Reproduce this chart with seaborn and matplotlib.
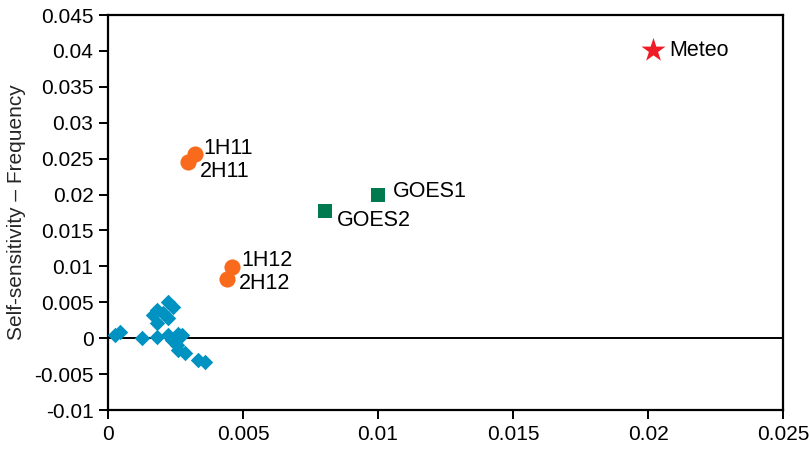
import matplotlib
matplotlib.use("Agg")
import matplotlib.pyplot as plt
import seaborn as sns

# Small sensitivity cluster (blue diamonds)
diamond_x = [0.00026, 0.00045, 0.00125, 0.00181, 0.00224, 0.00241, 0.00181, 0.00205,
             0.00168, 0.00181, 0.00223, 0.00224, 0.00261, 0.00273, 0.00236, 0.00255,
             0.00261, 0.00286, 0.00335, 0.00360]
diamond_y = [0.00042, 0.00084, 0.00000, 0.00010, 0.00505, 0.00436, 0.00390, 0.00344,
             0.00320, 0.00205, 0.00280, 0.00042, 0.00065, 0.00042, -0.00028, -0.00097,
             -0.00167, -0.00213, -0.00306, -0.00330]

# Labelled points
orange_names = ["1H11", "2H11", "1H12", "2H12"]
orange_x = [0.00323, 0.00298, 0.00459, 0.00440]
orange_y = [0.0256, 0.0246, 0.0099, 0.0083]

goes_names = ["GOES1", "GOES2"]
goes_x = [0.0100, 0.00805]
goes_y = [0.0199, 0.0177]

meteo_names = ["Meteo"]
meteo_x = [0.0202]
meteo_y = [0.0401]

x_ticks = [0, 0.005, 0.01, 0.015, 0.02, 0.025]
x_tick_labels = ["0", "0.005", "0.01", "0.015", "0.02", "0.025"]
y_ticks = [-0.01, -0.005, 0, 0.005, 0.01, 0.015, 0.02, 0.025, 0.03, 0.035, 0.04, 0.045]
y_tick_labels = ["-0.01", "-0.005", "0", "0.005", "0.01", "0.015", "0.02", "0.025",
                 "0.03", "0.035", "0.04", "0.045"]
y_label = "Self-sensitivity \u2013 Frequency"

sns.set_style("ticks")
plt.rcParams["font.family"] = ["Liberation Sans", "DejaVu Sans"]
plt.rcParams["font.size"] = 15

fig = plt.figure(figsize=(8.1, 4.51), dpi=100)
ax = fig.add_axes([0.1333, 0.0909, 0.8334, 0.8758])

blue = "#0092C0"
orange = "#FA6A1C"
green = "#007A4E"
red = "#EE1C25"

ax.axhline(0, color="black", linewidth=1.4, zorder=1)

sns.scatterplot(x=diamond_x, y=diamond_y, marker="D", s=62, color=blue,
                linewidth=0, ax=ax, zorder=3)
sns.scatterplot(x=orange_x, y=orange_y, marker="o", s=135, color=orange,
                linewidth=0, ax=ax, zorder=3)
sns.scatterplot(x=goes_x, y=goes_y, marker="s", s=115, color=green,
                linewidth=0, ax=ax, zorder=3)
sns.scatterplot(x=meteo_x, y=meteo_y, marker="*", s=330, color=red,
                linewidth=0, ax=ax, zorder=3)

# Text offsets in points from each marker
label_offsets = {
    "1H11": (6.0, 4.5),
    "2H11": (8.5, -7.5),
    "1H12": (6.5, 4.5),
    "2H12": (9.0, -3.5),
    "GOES1": (11.0, 2.5),
    "GOES2": (8.5, -6.8),
    "Meteo": (11.5, -0.5),
}
for names, xs, ys in [(orange_names, orange_x, orange_y),
                      (goes_names, goes_x, goes_y),
                      (meteo_names, meteo_x, meteo_y)]:
    for n, xv, yv in zip(names, xs, ys):
        ax.annotate(n, (xv, yv), xytext=label_offsets[n], textcoords="offset points",
                    ha="left", va="center", fontsize=15.5, color="black")

ax.set_xlim(0, 0.025)
ax.set_ylim(-0.01, 0.045)
ax.set_xticks(x_ticks)
ax.set_xticklabels(x_tick_labels)
ax.set_yticks(y_ticks)
ax.set_yticklabels(y_tick_labels)
ax.set_ylabel(y_label, fontsize=15, labelpad=6)

for sp in ax.spines.values():
    sp.set_visible(True)
    sp.set_color("black")
    sp.set_linewidth(1.6)
ax.tick_params(axis="both", direction="out", length=6.5, width=1.4, color="black",
               labelsize=15, labelcolor="black", pad=4)
ax.tick_params(top=False, right=False)

fig.savefig("out.png", dpi=100, facecolor="white")
